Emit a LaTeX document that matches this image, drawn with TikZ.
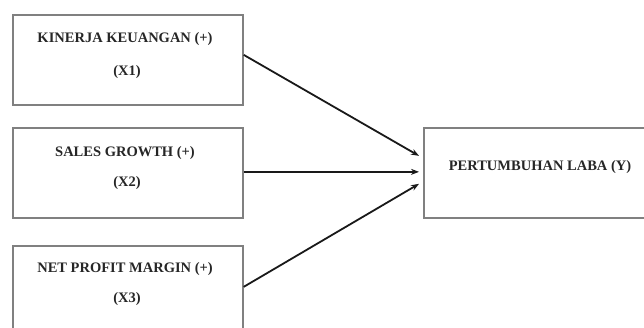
\documentclass[tikz,border=0pt]{standalone}
\usepackage{fontspec}
\setmainfont{Liberation Serif}
\usetikzlibrary{arrows.meta}
\begin{document}
\begin{tikzpicture}[x=1pt,y=-1pt,
  box/.style={draw=black!50,line width=1.7pt,rectangle,minimum width=230pt,minimum height=90pt,inner sep=0pt,anchor=north west},
  lbl/.style={font=\bfseries\fontsize{14.5}{16}\selectfont,text=black!85},
  conn/.style={draw=black!90,line width=1.8pt,-{Stealth[length=8pt,width=6pt]}}]
\useasboundingbox (0,0) rectangle (644,327);
\clip (0,0) rectangle (644,327);
\node[box] (b1) at (12,14) {};
\node[box] (b2) at (12,127) {};
\node[box] (b3) at (12,245) {};
\node[box,minimum width=240pt] (by) at (423,127) {};
\node[lbl] (t1a) at (125,39) {KINERJA KEUANGAN (+)};
\node[lbl] (t1b) at (127,72) {(X1)};
\node[lbl] (t2a) at (125,153) {SALES GROWTH (+)};
\node[lbl] (t2b) at (127,183) {(X2)};
\node[lbl] (t3a) at (125,269) {NET PROFIT MARGIN (+)};
\node[lbl] (t3b) at (127,299) {(X3)};
\node[lbl] (ty) at (540,167) {PERTUMBUHAN LABA (Y)};
\draw[conn] ([yshift=5pt]b1.east) -- ([xshift=-4pt,yshift=17pt]by.west);
\draw[conn] ([yshift=1pt]b2.east) -- ([xshift=-4pt,yshift=1pt]by.west);
\draw[conn] ([yshift=4pt]b3.east) -- ([xshift=-4pt,yshift=-11pt]by.west);
\end{tikzpicture}
\end{document}
